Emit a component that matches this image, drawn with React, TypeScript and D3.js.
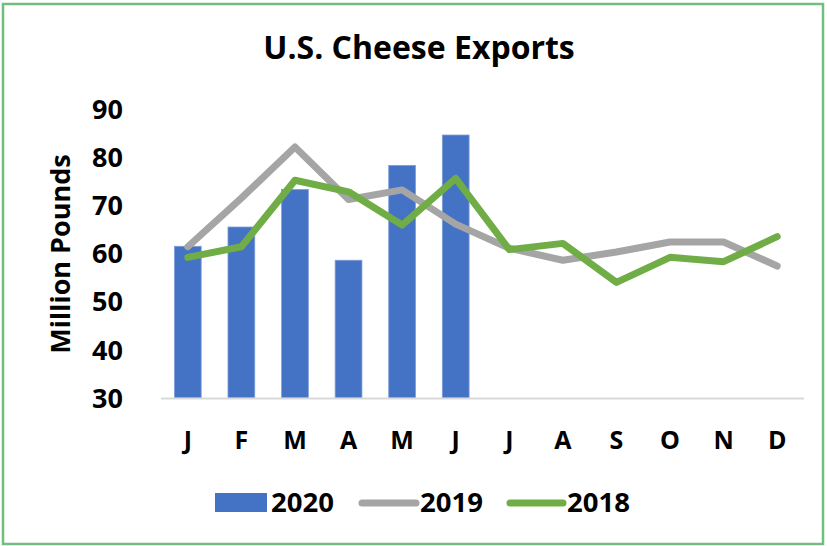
import React from "react";
import * as d3 from "d3";

const months = ["J", "F", "M", "A", "M", "J", "J", "A", "S", "O", "N", "D"];
const values2020 = [61.5, 65.5, 73.3, 58.6, 78.3, 84.6];
const values2019 = [61.4, 71.5, 82.1, 71.2, 73.2, 66.1, 61.1, 58.6, 60.3, 62.4, 62.4, 57.4];
const values2018 = [59.2, 61.4, 75.2, 72.8, 65.9, 75.6, 60.8, 62.1, 54.0, 59.2, 58.3, 63.5];
const yTicks = [30, 40, 50, 60, 70, 80, 90];
const legendLabels = ["2020", "2019", "2018"];

const W = 827;
const H = 546;
const FONT = "'Open Sans', 'DejaVu Sans', sans-serif";

export default function App() {
  const idx = months.map((_, i) => i);
  const x = d3.scaleBand<number>().domain(idx).range([161, 804]).paddingInner(0.5).paddingOuter(0.25);
  const xc = (i: number) => (x(i) as number) + x.bandwidth() / 2;
  const y = d3.scaleLinear().domain([30, 90]).range([398, 109]);
  const line = d3
    .line<number>()
    .x((_, i) => xc(i))
    .y((d) => y(d));

  return (
    <svg
      width={W}
      height={H}
      style={{ position: "absolute", left: 0, top: 0, display: "block" }}
    >
      <rect x={0} y={0} width={W} height={H} fill="#ffffff" />
      <rect x={3} y={4} width={820} height={540} fill="none" stroke="#70BF80" strokeWidth={2.5} />
      <text x={419} y={59} textAnchor="middle" fontFamily={FONT} fontWeight={700} fontSize={32} fill="#000">
        U.S. Cheese Exports
      </text>
      {/* y axis label */}
      <text
        transform={`translate(70,254) rotate(-90)`}
        textAnchor="middle"
        fontFamily={FONT}
        fontWeight={700}
        fontSize={27}
        fill="#000"
      >
        Million Pounds
      </text>
      {yTicks.map((t) => (
        <text
          key={t}
          x={123}
          y={y(t)}
          dy="0.36em"
          textAnchor="end"
          fontFamily={FONT}
          fontWeight={700}
          fontSize={27}
          fill="#000"
        >
          {t}
        </text>
      ))}
      {/* bars */}
      {values2020.map((v, i) => (
        <rect
          key={i}
          x={x(i) as number}
          y={y(v)}
          width={x.bandwidth()}
          height={y(30) - y(v)}
          fill="#4472C4"
          stroke="#7F9FDA"
          strokeWidth={0.8}
        />
      ))}
      <line x1={161} x2={804} y1={398.5} y2={398.5} stroke="#D9D9D9" strokeWidth={2} />
      <path d={line(values2019) || ""} fill="none" stroke="#A5A5A5" strokeWidth={7} strokeLinejoin="round" strokeLinecap="round" />
      <path d={line(values2018) || ""} fill="none" stroke="#70AD47" strokeWidth={7} strokeLinejoin="round" strokeLinecap="round" />
      {months.map((m, i) => (
        <text
          key={i}
          x={xc(i)}
          y={449}
          textAnchor="middle"
          fontFamily={FONT}
          fontWeight={700}
          fontSize={25}
          fill="#000"
        >
          {m}
        </text>
      ))}
      {/* legend */}
      <rect x={215} y={493} width={52} height={19} fill="#4472C4" />
      <text x={271} y={512} fontFamily={FONT} fontWeight={700} fontSize={27.5} fill="#000">
        {legendLabels[0]}
      </text>
      <line x1={362} x2={416} y1={503} y2={503} stroke="#A5A5A5" strokeWidth={7} strokeLinecap="round" />
      <text x={420} y={512} fontFamily={FONT} fontWeight={700} fontSize={27.5} fill="#000">
        {legendLabels[1]}
      </text>
      <line x1={510} x2={563} y1={503} y2={503} stroke="#70AD47" strokeWidth={7} strokeLinecap="round" />
      <text x={567} y={512} fontFamily={FONT} fontWeight={700} fontSize={27.5} fill="#000">
        {legendLabels[2]}
      </text>
    </svg>
  );
}
